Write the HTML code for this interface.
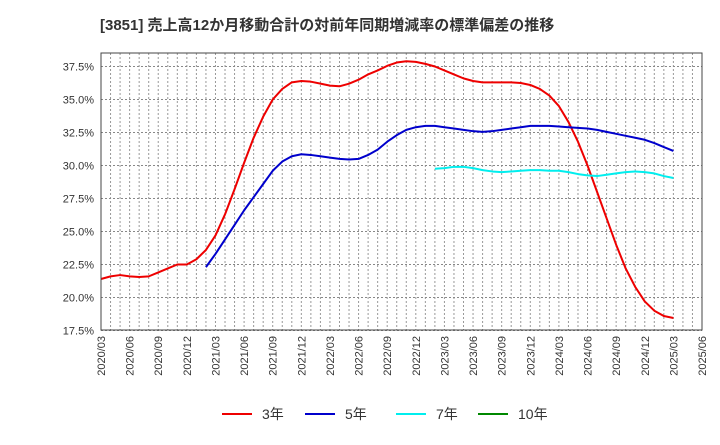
<!DOCTYPE html>
<html><head><meta charset="utf-8"><style>
body{margin:0;background:#fff;font-family:"Liberation Sans","Noto Sans CJK JP",sans-serif}
</style></head><body>
<svg width="720" height="440" xmlns="http://www.w3.org/2000/svg" style="font-family:'Liberation Sans','Noto Sans CJK JP',sans-serif">
<text x="100" y="30" font-size="15" font-weight="bold" fill="#333">[3851]  売上高12か月移動合計の対前年同期増減率の標準偏差の推移</text>
<g id="grid"></g><g id="yt"></g><g id="xt"></g><g id="series"></g>
<rect x="101" y="53" width="601" height="277" fill="none" stroke="#444" stroke-width="1"/>
<g font-size="14" fill="#333">
<line x1="222" y1="414" x2="252" y2="414" stroke="#e00" stroke-width="2"/><text x="262" y="419">3年</text>
<line x1="305" y1="414" x2="335" y2="414" stroke="#00c" stroke-width="2"/><text x="345" y="419">5年</text>
<line x1="396" y1="414" x2="426" y2="414" stroke="#0ee" stroke-width="2"/><text x="436" y="419">7年</text>
<line x1="478" y1="414" x2="508" y2="414" stroke="#080" stroke-width="2"/><text x="518" y="419">10年</text>
</g>
</svg>
<script>
const yTicks=[17.5,20,22.5,25,27.5,30,32.5,35,37.5];
const xLabels=["2020/03","2020/06","2020/09","2020/12","2021/03","2021/06","2021/09","2021/12","2022/03","2022/06","2022/09","2022/12","2023/03","2023/06","2023/09","2023/12","2024/03","2024/06","2024/09","2024/12","2025/03","2025/06"];
const s3=[21.4,21.6,21.7,21.6,21.55,21.6,21.9,22.2,22.5,22.5,22.9,23.6,24.7,26.3,28.2,30.2,32.1,33.7,35.0,35.8,36.3,36.4,36.35,36.2,36.05,36.0,36.2,36.5,36.9,37.2,37.55,37.8,37.9,37.85,37.7,37.5,37.2,36.9,36.6,36.4,36.3,36.3,36.3,36.3,36.25,36.1,35.8,35.3,34.5,33.3,31.8,30.0,28.0,26.0,24.0,22.2,20.8,19.7,19.0,18.6,18.45];
const s5Start=11;
const s5=[22.3,23.3,24.4,25.5,26.6,27.6,28.6,29.6,30.3,30.7,30.85,30.8,30.7,30.6,30.5,30.45,30.5,30.8,31.2,31.8,32.3,32.7,32.9,33.0,33.0,32.9,32.8,32.7,32.6,32.55,32.6,32.7,32.8,32.9,33.0,33.0,33.0,32.95,32.9,32.85,32.8,32.7,32.55,32.4,32.25,32.1,31.95,31.7,31.4,31.1];
const s7Start=35;
const s7=[29.75,29.8,29.9,29.9,29.8,29.65,29.55,29.5,29.55,29.6,29.65,29.65,29.6,29.6,29.5,29.35,29.25,29.2,29.3,29.4,29.5,29.55,29.5,29.4,29.2,29.05];
const NS="http://www.w3.org/2000/svg";
const X=m=>101+m*601/63, Y=v=>330.5-(v-17.5)*13.2;
function mk(t,a,p){const e=document.createElementNS(NS,t);for(const k in a)e.setAttribute(k,a[k]);document.getElementById(p).appendChild(e);return e;}
for(let m=1;m<63;m++){const l=mk('line',{x1:X(m),x2:X(m),y1:53,y2:330,stroke:'#999','stroke-dasharray':'2,2','stroke-width':1},'grid');

}
yTicks.forEach(v=>{const l=mk('line',{x1:101,x2:702,y1:Y(v),y2:Y(v),stroke:'#888','stroke-dasharray':'2,2'},'grid');


const t=mk('text',{x:94,y:Y(v)+4,'text-anchor':'end','font-size':11,fill:'#333'},'yt');t.textContent=v.toFixed(1)+'%';

});
xLabels.forEach((s,i)=>{const x=X(i*3);const t=mk('text',{x:0,y:0,transform:`translate(${x+4},336) rotate(-90)`,'text-anchor':'end','font-size':11,fill:'#333'},'xt');t.textContent=s;

});
function line(arr,start,col,name){const p=mk('polyline',{points:arr.map((v,i)=>X(start+i)+','+Y(v)).join(' '),fill:'none',stroke:col,'stroke-width':2,'stroke-linejoin':'round'},'series');

}
line(s3,0,'#e00','series-3y');line(s5,s5Start,'#00c','series-5y');line(s7,s7Start,'#0ee','series-7y');
</script>
</body></html>
